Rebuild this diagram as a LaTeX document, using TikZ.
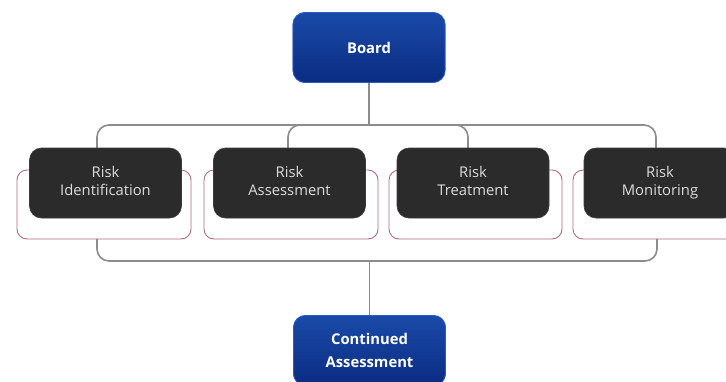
\documentclass[tikz,border=0pt]{standalone}
\usepackage{fontspec}
\setmainfont{Open Sans}
\usetikzlibrary{calc}
\definecolor{busgray}{HTML}{8C8C8C}
\definecolor{pinkline}{HTML}{B06A7C}
\definecolor{darkfill}{HTML}{2B2B2B}
\definecolor{darkedge}{HTML}{3C3C3C}
\definecolor{blueTop}{HTML}{1A4AA8}
\definecolor{blueBot}{HTML}{0A2C82}
\definecolor{blueEdge}{HTML}{2D5CC0}
\definecolor{lighttext}{HTML}{DCDCDC}
\tikzset{
  bus/.style={draw=busgray, line width=1.6pt, rounded corners=12pt},
  pinkbox/.style={draw=pinkline, line width=0.9pt, rounded corners=10pt},
  stepbox/.style={rectangle, rounded corners=12pt, fill=darkfill, draw=darkedge, line width=0.6pt,
    minimum width=152pt, minimum height=70pt, align=center, text=lighttext,
    font=\fontsize{14.8}{18.5}\selectfont, inner sep=2pt},
  bluebox/.style={rectangle, rounded corners=12pt, top color=blueTop, bottom color=blueBot, draw=blueEdge, line width=0.8pt,
    minimum width=152pt, minimum height=70pt, align=center, text=white,
    font=\bfseries\fontsize{14.8}{22.5}\selectfont, inner sep=2pt}
}
\begin{document}
\begin{tikzpicture}[x=1pt,y=-1pt]
\useasboundingbox (0,0) rectangle (726,381);
\clip (0,0) rectangle (726,381);
% coordinates for the buses
\coordinate (tb) at (0,125);
\coordinate (bb) at (0,261);
\coordinate (d1) at (97,148);
\coordinate (d2) at (288,148);
\coordinate (d3) at (468,148);
\coordinate (d4) at (656,148);
\coordinate (u1) at (97,239);
\coordinate (u4) at (657,239);
% blue nodes
\node[bluebox] (board) at (369,47.5) {Board};
\node[bluebox] (cont) at (369.5,350.5) {Continued\\Assessment};
% buses
\draw[bus] (d1) |- (d3|-tb) -- (d3);
\draw[bus] (d2) |- (d4|-tb) -- (d4);
\draw[bus] (board.south) -- (board.south|-tb);
\draw[bus] (u1) |- (u4|-bb) -- (u4);
\draw[bus] (cont.north) -- (cont.north|-bb);
% pink frames
\draw[pinkbox] (17,170) rectangle (191,239);
\draw[pinkbox] (204,170) rectangle (378,239);
\draw[pinkbox] (389,170) rectangle (562,239);
\draw[pinkbox] (573,170) rectangle (747,239);
% step boxes
\node[stepbox] (ident) at (105.5,183) {\strut Risk\\\strut Identification};
\node[stepbox] (assess) at (289.5,183) {\strut Risk\\\strut Assessment};
\node[stepbox] (treat) at (473,183) {\strut Risk\\\strut Treatment};
\node[stepbox] (monit) at (660,183) {\strut Risk\\\strut Monitoring};
% blue boxes on top of their connectors
\node[bluebox] at (board) {Board};
\node[bluebox] at (cont) {Continued\\Assessment};
\end{tikzpicture}
\end{document}
